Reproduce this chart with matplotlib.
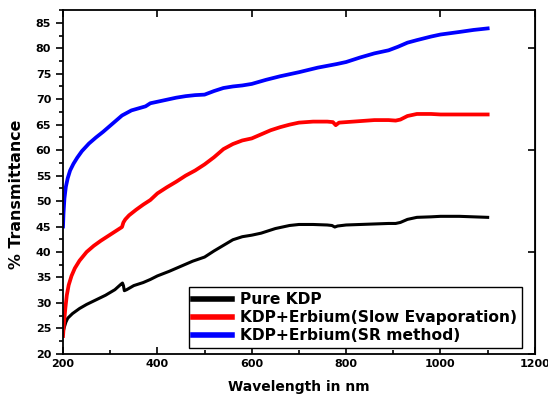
import numpy as np
import matplotlib.pyplot as plt
from matplotlib.ticker import MultipleLocator

# wavelength (nm) and transmittance (%)
wl_pure = [200, 203, 206, 210, 220, 235, 250, 270, 290, 310, 322, 326, 328, 330, 335,
           350, 370, 385, 400, 425, 450, 475, 500, 520, 540, 560, 580, 600, 620, 650,
           680, 700, 730, 760, 770, 776, 782, 800, 830, 860, 890, 905, 915, 930, 950,
           980, 1000, 1040, 1070, 1100]
t_pure = [24.3, 25.3, 26.2, 27.0, 27.9, 28.9, 29.7, 30.6, 31.5, 32.6, 33.6, 33.9, 33.4, 32.4, 32.6,
          33.4, 34.0, 34.6, 35.3, 36.2, 37.2, 38.2, 39.0, 40.2, 41.3, 42.4, 43.0, 43.3, 43.7, 44.6,
          45.2, 45.4, 45.4, 45.3, 45.2, 44.9, 45.1, 45.3, 45.4, 45.5, 45.6, 45.6, 45.8, 46.4, 46.8,
          46.9, 47.0, 47.0, 46.9, 46.8]

wl_slow = [200, 202, 205, 208, 212, 218, 225, 235, 250, 265, 280, 300, 315, 325, 328,
           332, 340, 355, 370, 385, 400, 420, 440, 460, 480, 500, 520, 540, 560, 580,
           600, 620, 640, 660, 680, 700, 730, 760, 772, 778, 785, 800, 830, 860, 890,
           905, 915, 930, 950, 980, 1000, 1050, 1100]
t_slow = [23.5, 26.0, 29.0, 31.5, 33.5, 35.3, 36.8, 38.3, 40.0, 41.2, 42.2, 43.4, 44.3, 44.9, 45.8,
          46.4, 47.2, 48.3, 49.3, 50.2, 51.5, 52.7, 53.8, 55.0, 56.0, 57.2, 58.6, 60.2, 61.2, 61.9,
          62.3, 63.1, 63.9, 64.5, 65.0, 65.4, 65.6, 65.6, 65.5, 64.9, 65.4, 65.5, 65.7, 65.9, 65.9,
          65.8, 66.0, 66.7, 67.1, 67.1, 67.0, 67.0, 67.0]

wl_sr = [200, 201, 203, 206, 210, 215, 222, 230, 240, 255, 270, 285, 300, 315, 325,
         335, 345, 360, 375, 385, 400, 420, 440, 460, 480, 500, 520, 540, 560, 580,
         600, 630, 660, 700, 740, 780, 800, 830, 860, 890, 910, 930, 950, 980, 1000,
         1040, 1070, 1100]
t_sr = [45.0, 47.5, 50.5, 52.8, 54.5, 56.0, 57.3, 58.5, 59.8, 61.3, 62.5, 63.6, 64.8, 66.0, 66.8,
        67.3, 67.8, 68.2, 68.6, 69.2, 69.5, 69.9, 70.3, 70.6, 70.8, 70.9, 71.6, 72.2, 72.5, 72.7,
        73.0, 73.8, 74.5, 75.3, 76.2, 76.9, 77.3, 78.2, 79.0, 79.6, 80.3, 81.1, 81.6, 82.3, 82.7,
        83.2, 83.6, 83.9]

fig, ax = plt.subplots(figsize=(5.48, 4.03), dpi=100)
fig.subplots_adjust(left=0.115, right=0.976, top=0.975, bottom=0.122)

ax.plot(wl_pure, t_pure, color='black', lw=2.2, label='Pure KDP')
ax.plot(wl_slow, t_slow, color='#ff0000', lw=2.7, label='KDP+Erbium(Slow Evaporation)')
ax.plot(wl_sr, t_sr, color='#0000ff', lw=2.7, label='KDP+Erbium(SR method)')

ax.set_xlim(200, 1200)
ax.set_ylim(20, 87.5)
ax.xaxis.set_major_locator(MultipleLocator(200))
ax.xaxis.set_minor_locator(MultipleLocator(100))
ax.yaxis.set_major_locator(MultipleLocator(5))
ax.yaxis.set_minor_locator(MultipleLocator(2.5))

ax.tick_params(axis='x', which='both', direction='in', top=True, width=1.2)
ax.tick_params(axis='x', which='major', length=5)
ax.tick_params(axis='x', which='minor', length=3, top=False)
ax.tick_params(axis='y', which='both', direction='out', width=1.2)
ax.tick_params(axis='y', which='major', length=5)
ax.tick_params(axis='y', which='minor', length=3)
ax.tick_params(labelsize=8)
for lab in ax.get_xticklabels() + ax.get_yticklabels():
    lab.set_fontweight('bold')

# right side: inward major ticks only, no labels
ax2 = ax.secondary_yaxis('right')
ax2.yaxis.set_major_locator(MultipleLocator(20))
ax2.tick_params(direction='in', length=5, width=1.2, labelright=False)

for s in ax.spines.values():
    s.set_linewidth(1.3)

ax.set_xlabel('Wavelength in nm', fontsize=10, fontweight='bold', labelpad=8)
ax.set_ylabel('% Transmittance', fontsize=11.4, fontweight='bold')
ax.yaxis.set_label_coords(-0.082, 0.465)

leg = ax.legend(loc='lower right', bbox_to_anchor=(0.972, 0.017), borderaxespad=0,
                prop={'weight': 'bold', 'size': 11.2}, handlelength=2.5,
                borderpad=0.3, labelspacing=0.2, handletextpad=0.5,
                fancybox=False, edgecolor='black', framealpha=1)
leg.get_frame().set_linewidth(1.0)
for h in leg.get_lines():
    h.set_linewidth(4)

plt.savefig('out.png', dpi=100)
